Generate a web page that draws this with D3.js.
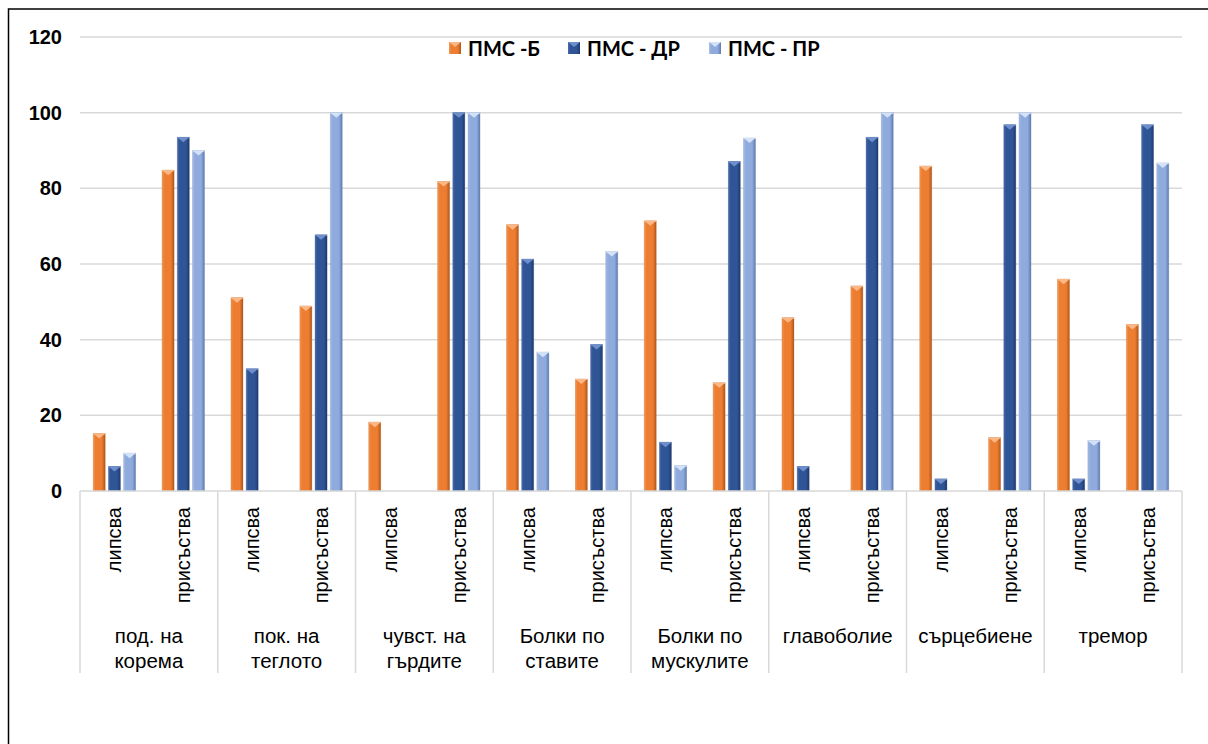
<!DOCTYPE html>
<html>
<head>
<meta charset="utf-8">
<script src="https://cdn.jsdelivr.net/npm/d3@7/dist/d3.min.js"></script>
<style>
  html, body { margin: 0; padding: 0; background: #fff; }
  svg { display: block; }
</style>
</head>
<body>
<div id="chart"></div>
<script>
// Symptom groups (two-line labels split by "\n")
const groups = ["под. на\nкорема", "пок. на\nтеглото", "чувст. на\nгърдите", "Болки по\nставите",
                "Болки по\nмускулите", "главоболие", "сърцебиене", "тремор"];
const subcats = ["липсва", "присъства"];
const seriesNames = ["ПМС -Б", "ПМС - ДР", "ПМС - ПР"];

// Percentages, ordered group by group: [липсва, присъства] for each symptom
const pmsB  = [15.2, 84.8, 51.1, 48.9, 18.2, 81.8, 70.4, 29.6, 71.4, 28.6, 45.8, 54.2, 85.9, 14.1, 56.0, 44.0];
const pmsDR = [6.5, 93.5, 32.3, 67.7, 0, 100, 61.3, 38.7, 12.9, 87.1, 6.5, 93.5, 3.2, 96.8, 3.2, 96.8];
const pmsPR = [10.0, 90.0, 0, 100, 0, 100, 36.7, 63.3, 6.7, 93.3, 0, 100, 0, 100, 13.3, 86.7];

const yTicks = [0, 20, 40, 60, 80, 100, 120];

const W = 1208, H = 744;
const plot = { left: 80, right: 1182, top: 37, bottom: 491 };

// colour sets: base, light edge, dark edge, top facet
const palettes = [
  { base: "#ED7D31", light: "#F59B55", dark: "#B0561A", top: "#FBB886" },
  { base: "#2F5597", light: "#4A6DB0", dark: "#1E3A6E", top: "#6E8FCB" },
  { base: "#8FAADC", light: "#A9C0E8", dark: "#5F7BAE", top: "#D3E2F7" }
];

const values = [pmsB, pmsDR, pmsPR];

const svg = d3.select("#chart").append("svg")
  .attr("width", W).attr("height", H);

const defs = svg.append("defs");
palettes.forEach((p, i) => {
  const g = defs.append("linearGradient").attr("id", "bev" + i)
    .attr("x1", "0").attr("x2", "1").attr("y1", "0").attr("y2", "0");
  g.append("stop").attr("offset", "0%").attr("stop-color", p.light);
  g.append("stop").attr("offset", "18%").attr("stop-color", p.base);
  g.append("stop").attr("offset", "72%").attr("stop-color", p.base);
  g.append("stop").attr("offset", "100%").attr("stop-color", p.dark);
});

// outer frame
svg.append("rect")
  .attr("x", 8.5).attr("y", 9).attr("width", 1220).attr("height", 760)
  .attr("fill", "none").attr("stroke", "#000").attr("stroke-width", 1.5);

const y = d3.scaleLinear().domain([0, 120]).range([plot.bottom, plot.top]);

const x0 = d3.scaleBand().domain(d3.range(groups.length))
  .range([plot.left, plot.right]).padding(0);
const x1 = d3.scaleBand().domain(subcats)
  .range([0, x0.bandwidth()]).padding(0);
const x2 = d3.scaleBand().domain(d3.range(seriesNames.length))
  .range([0, x1.bandwidth()]).paddingInner(0.21).paddingOuter(0.87);

// gridlines
svg.append("g").selectAll("line")
  .data(yTicks.filter(t => t > 0))
  .join("line")
  .attr("x1", plot.left).attr("x2", plot.right)
  .attr("y1", d => y(d)).attr("y2", d => y(d))
  .attr("stroke", "#d9d9d9").attr("stroke-width", 1.5);

// y axis labels
const yAxis = d3.axisLeft(y).tickValues(yTicks).tickSize(0).tickPadding(18);
const yg = svg.append("g").attr("transform", `translate(${plot.left},0)`).call(yAxis);
yg.select(".domain").remove();
yg.selectAll("text")
  .attr("font-family", "'Liberation Sans', Arial, sans-serif")
  .attr("font-size", 20).attr("font-weight", "bold").attr("fill", "#000");

// bars
const rows = [];
groups.forEach((g, gi) => {
  subcats.forEach((s, si) => {
    values.forEach((arr, k) => {
      rows.push({ gi, s, k, v: arr[gi * 2 + si] });
    });
  });
});

const barG = svg.append("g");
const bars = barG.selectAll("g.bar").data(rows.filter(d => d.v > 0)).join("g")
  .attr("class", "bar")
  .attr("transform", d => `translate(${x0(d.gi) + x1(d.s) + x2(d.k)},0)`);

const bw = x2.bandwidth();
bars.append("rect")
  .attr("x", 0).attr("width", bw)
  .attr("y", d => y(d.v)).attr("height", d => y(0) - y(d.v))
  .attr("fill", d => `url(#bev${d.k})`)
  .attr("stroke", d => palettes[d.k].dark).attr("stroke-opacity", 0.35).attr("stroke-width", 0.8);
bars.append("path")
  .attr("d", d => {
    const t = y(d.v);
    const h = Math.min(5, (y(0) - t) / 2);
    return `M0,${t} L${bw},${t} L${bw / 2},${t + h} Z`;
  })
  .attr("fill", d => palettes[d.k].top);
bars.append("line")
  .attr("x1", 0).attr("x2", bw)
  .attr("y1", d => y(d.v) + 0.5).attr("y2", d => y(d.v) + 0.5)
  .attr("stroke", d => palettes[d.k].top).attr("stroke-width", 1);

// category axis: baseline and group separators
const axisG = svg.append("g");
axisG.append("line")
  .attr("x1", plot.left).attr("x2", plot.right)
  .attr("y1", plot.bottom).attr("y2", plot.bottom)
  .attr("stroke", "#d9d9d9").attr("stroke-width", 1.5);
const seps = d3.range(groups.length).map(i => x0(i)).concat([plot.right]);
axisG.selectAll("line.sep").data(seps).join("line")
  .attr("class", "sep")
  .attr("x1", d => d).attr("x2", d => d)
  .attr("y1", plot.bottom).attr("y2", 673)
  .attr("stroke", "#d9d9d9").attr("stroke-width", 1.5);

// rotated sub-category labels
groups.forEach((g, gi) => {
  subcats.forEach(s => {
    const cx = x0(gi) + x1(s) + x1.bandwidth() / 2;
    axisG.append("text")
      .attr("transform", `translate(${cx},${plot.bottom + 16}) rotate(-90)`)
      .attr("text-anchor", "end")
      .attr("dy", "0.35em")
      .attr("font-family", "'Liberation Sans', Arial, sans-serif")
      .attr("font-size", 20).attr("fill", "#000")
      .text(s);
  });
});

// group labels
groups.forEach((g, gi) => {
  const cx = x0(gi) + x0.bandwidth() / 2;
  const t = axisG.append("text")
    .attr("x", cx).attr("y", 643)
    .attr("text-anchor", "middle")
    .attr("font-family", "'Liberation Sans', Arial, sans-serif")
    .attr("font-size", 20.5).attr("fill", "#000");
  g.split("\n").forEach((line, li) => {
    t.append("tspan").attr("x", cx).attr("dy", li === 0 ? 0 : 25).text(line);
  });
});

// legend
const legendX = [449, 568, 709];
const leg = svg.append("g");
seriesNames.forEach((n, i) => {
  const lg = leg.append("g").attr("transform", `translate(${legendX[i]},42)`);
  lg.append("rect").attr("width", 12).attr("height", 12)
    .attr("fill", `url(#bev${i})`);
  lg.append("path").attr("d", "M0,0 L12,0 L6,5 Z").attr("fill", palettes[i].top);
  lg.append("text")
    .attr("x", 19).attr("y", 13.5)
    .attr("font-family", "Lato, 'Open Sans', sans-serif")
    .attr("font-weight", "bold").attr("font-size", 20).attr("fill", "#000")
    .text(n);
});
</script>
</body>
</html>
